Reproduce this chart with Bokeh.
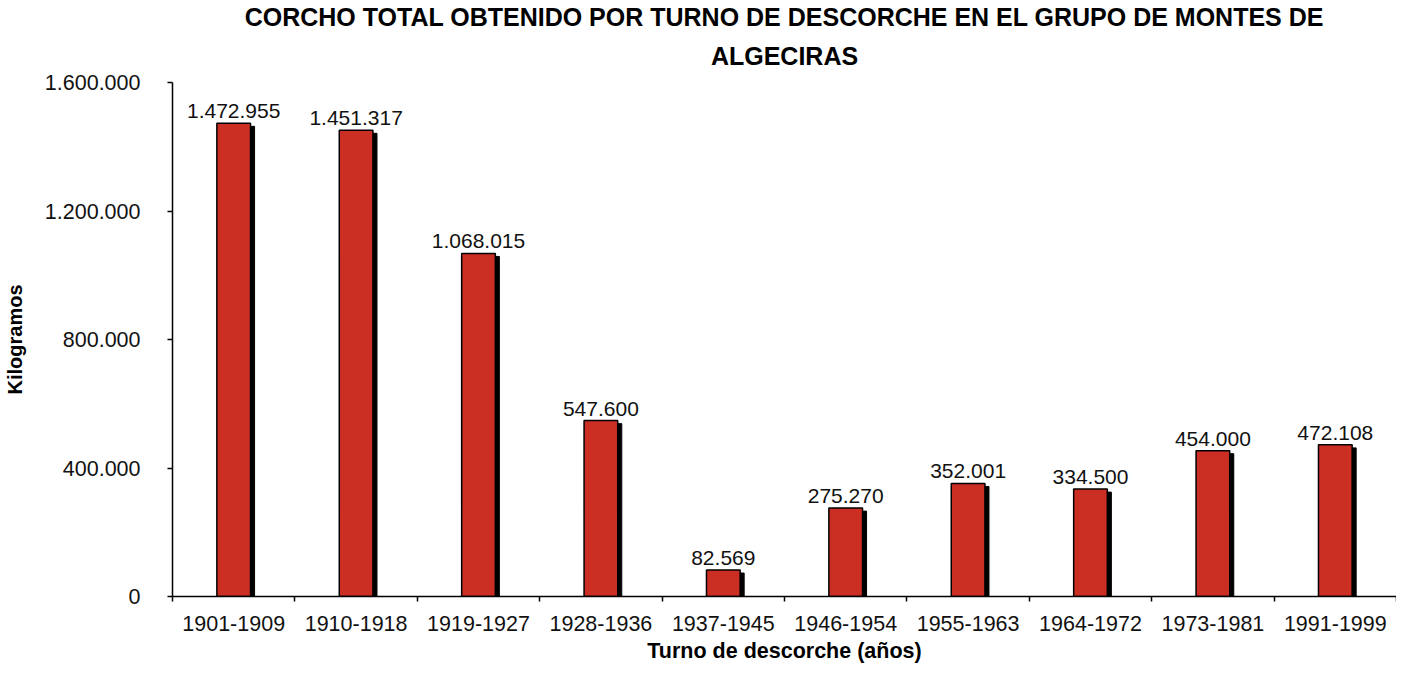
from bokeh.plotting import figure
from bokeh.models import Range1d, FixedTicker, Title, ColumnDataSource
from bokeh.core.properties import value
from bokeh.embed import file_html
from bokeh.resources import INLINE

# ---- data ----
categories = ["1901-1909", "1910-1918", "1919-1927", "1928-1936", "1937-1945",
              "1946-1954", "1955-1963", "1964-1972", "1973-1981", "1991-1999"]
kilogramos = [1472955, 1451317, 1068015, 547600, 82569,
              275270, 352001, 334500, 454000, 472108]
y_ticks = [0, 400000, 800000, 1200000, 1600000]
title_lines = ["CORCHO TOTAL OBTENIDO POR TURNO DE DESCORCHE EN EL GRUPO DE MONTES DE",
               "ALGECIRAS"]
x_title = "Turno de descorche (años)"
y_title = "Kilogramos"


def es_fmt(v):
    return f"{int(v):,}".replace(",", ".")


FONT = "Liberation Sans"
RED = "#CB2F24"

n = len(categories)
xs = [i + 0.5 for i in range(n)]
src = ColumnDataSource(dict(
    x=xs,
    xs=[x + 0.033 for x in xs],
    top=kilogramos,
    stop=[v - 9500 for v in kilogramos],
    label=[es_fmt(v) for v in kilogramos],
))

p = figure(width=1396, height=665, output_backend="svg", toolbar_location=None,
           x_range=Range1d(0, n), y_range=Range1d(0, y_ticks[-1]),
           min_border_left=167, min_border_right=0, min_border_top=0,
           min_border_bottom=0)
p.outline_line_color = None
p.grid.visible = False
p.background_fill_color = "white"
p.border_fill_color = "white"

# shadows
p.vbar(x="xs", top="stop", bottom=0, width=0.275, source=src,
       fill_color="black", line_color="black")
# bars
p.vbar(x="x", top="top", bottom=0, width=0.275, source=src,
       fill_color=RED, line_color="black", line_width=1.5)

# labels
p.text(x="x", y="top", text="label", source=src, text_align="center",
       text_baseline="bottom", y_offset=-5, text_font=value(FONT),
       text_font_size="21px", text_color="#111111")

# y axis
yax = p.yaxis[0]
yax.ticker = FixedTicker(ticks=y_ticks)
yax.major_label_overrides = {t: es_fmt(t) for t in y_ticks}
yax.minor_tick_line_color = None
yax.major_tick_in = 0
yax.major_tick_out = 5
yax.major_label_standoff = 27
yax.axis_line_width = 1.5
yax.major_tick_line_width = 1.5
yax.major_label_text_font = FONT
yax.major_label_text_font_size = "21.5px"
yax.major_label_text_color = "#111111"
yax.axis_label = y_title
yax.axis_label_text_font = FONT
yax.axis_label_text_font_style = "bold"
yax.axis_label_text_font_size = "20px"
yax.axis_label_standoff = 16
yax.axis_label_text_color = "black"

# x axis
xax = p.xaxis[0]
xax.ticker = FixedTicker(ticks=xs, minor_ticks=list(range(n + 1)))
xax.major_label_overrides = {x: c for x, c in zip(xs, categories)}
xax.major_tick_in = 0
xax.major_tick_out = 0
xax.minor_tick_in = 0
xax.minor_tick_out = 5
xax.minor_tick_line_width = 1.5
xax.minor_tick_line_color = "black"
xax.axis_line_width = 1.5
xax.major_label_standoff = 14
xax.major_label_text_font = FONT
xax.major_label_text_font_size = "21.5px"
xax.major_label_text_color = "#111111"
xax.axis_label = x_title
xax.axis_label_text_font = FONT
xax.axis_label_text_font_style = "bold"
xax.axis_label_text_font_size = "21.5px"
xax.axis_label_standoff = 5
xax.axis_label_text_color = "black"

# title (two lines, each centred)
p.add_layout(Title(text=title_lines[1], align="center", text_font=FONT,
                   text_font_style="bold", text_font_size="25px",
                   text_color="black", standoff=22, vertical_align="top"),
             "above")
p.add_layout(Title(text=title_lines[0], align="center", text_font=FONT,
                   text_font_style="bold", text_font_size="25px",
                   text_color="black", standoff=0), "above")

open("out.html", "w").write(file_html(p, INLINE))
